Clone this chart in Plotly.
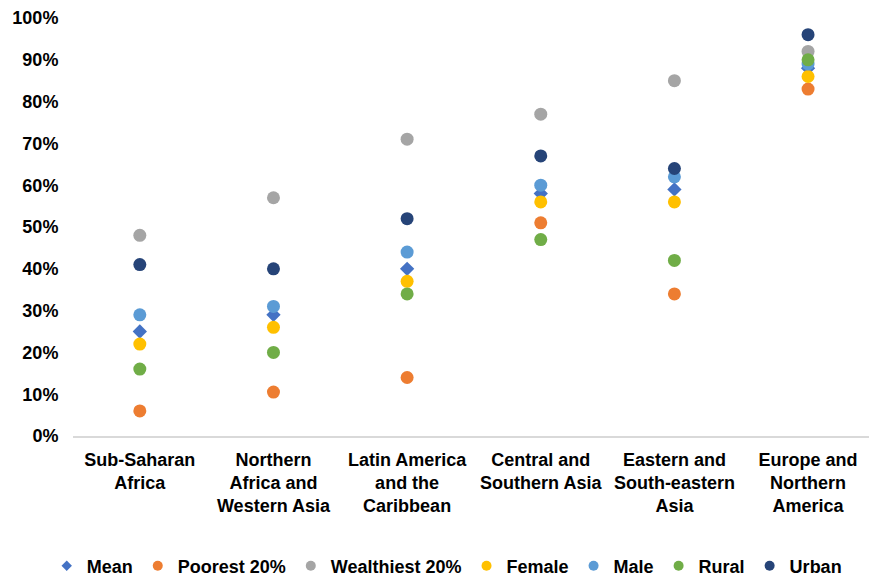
import plotly.graph_objects as go

# Regions (category axis) and share values per group, in percent
regions = [
    "Sub-Saharan<br>Africa",
    "Northern<br>Africa and<br>Western Asia",
    "Latin America<br>and the<br>Caribbean",
    "Central and<br>Southern Asia",
    "Eastern and<br>South-eastern<br>Asia",
    "Europe and<br>Northern<br>America",
]

mean = [25, 29, 40, 58, 59, 88]
poorest_20 = [6, 10.5, 14, 51, 34, 83]
wealthiest_20 = [48, 57, 71, 77, 85, 92]
female = [22, 26, 37, 56, 56, 86]
male = [29, 31, 44, 60, 62, 89]
rural = [16, 20, 34, 47, 42, 90]
urban = [41, 40, 52, 67, 64, 96]

y_ticks = [0, 10, 20, 30, 40, 50, 60, 70, 80, 90, 100]
y_tick_labels = [f"{v}%" for v in y_ticks]

FONT = "Liberation Sans, Arial, sans-serif"
FSIZE = 18

series = [
    ("Mean", mean, "#4472C4", "diamond", 11),
    ("Poorest 20%", poorest_20, "#ED7D31", "circle", 13),
    ("Wealthiest 20%", wealthiest_20, "#A5A5A5", "circle", 13),
    ("Female", female, "#FFC000", "circle", 13),
    ("Male", male, "#5B9BD5", "circle", 13),
    ("Rural", rural, "#70AD47", "circle", 13),
    ("Urban", urban, "#264478", "circle", 13),
]

fig = go.Figure()
for name, vals, color, symbol, size in series:
    # plotted points
    fig.add_trace(go.Scatter(
        x=regions, y=vals, mode="markers", name=name, showlegend=False,
        marker=dict(color=color, symbol=symbol, size=size, line=dict(width=0)),
    ))
    # smaller legend swatch
    fig.add_trace(go.Scatter(
        x=[None], y=[None], mode="markers", name=name, showlegend=True,
        marker=dict(color=color, symbol=symbol, size=10 if symbol == "circle" else 8,
                    line=dict(width=0)),
    ))

fig.update_layout(
    width=869, height=577,
    margin=dict(l=73, r=0, t=18, b=141, autoexpand=False),
    paper_bgcolor="white", plot_bgcolor="white",
    font=dict(family=FONT, size=FSIZE, color="#000000"),
    showlegend=True,
    legend=dict(
        orientation="h", x=-0.033, xanchor="left", y=-0.311, yanchor="middle",
        font=dict(family=FONT, size=FSIZE, color="#000000", weight="bold"),
        itemsizing="trace", itemwidth=30, tracegroupgap=0,
    ),
)

fig.update_xaxes(
    type="category", range=[-0.5, 5.456], showgrid=False, zeroline=False,
    showline=True, linecolor="#D9D9D9", linewidth=2,
    ticks="outside", ticklen=6, tickcolor="rgba(0,0,0,0)",
    tickfont=dict(family=FONT, size=FSIZE, color="#000000", weight="bold"),
)
fig.update_yaxes(
    range=[0, 100], tickvals=y_ticks, ticktext=y_tick_labels,
    showgrid=False, zeroline=False, showline=False,
    ticks="outside", ticklen=10, tickcolor="rgba(0,0,0,0)",
    tickfont=dict(family=FONT, size=FSIZE, color="#000000", weight="bold"),
)

fig.write_html("out.html")
